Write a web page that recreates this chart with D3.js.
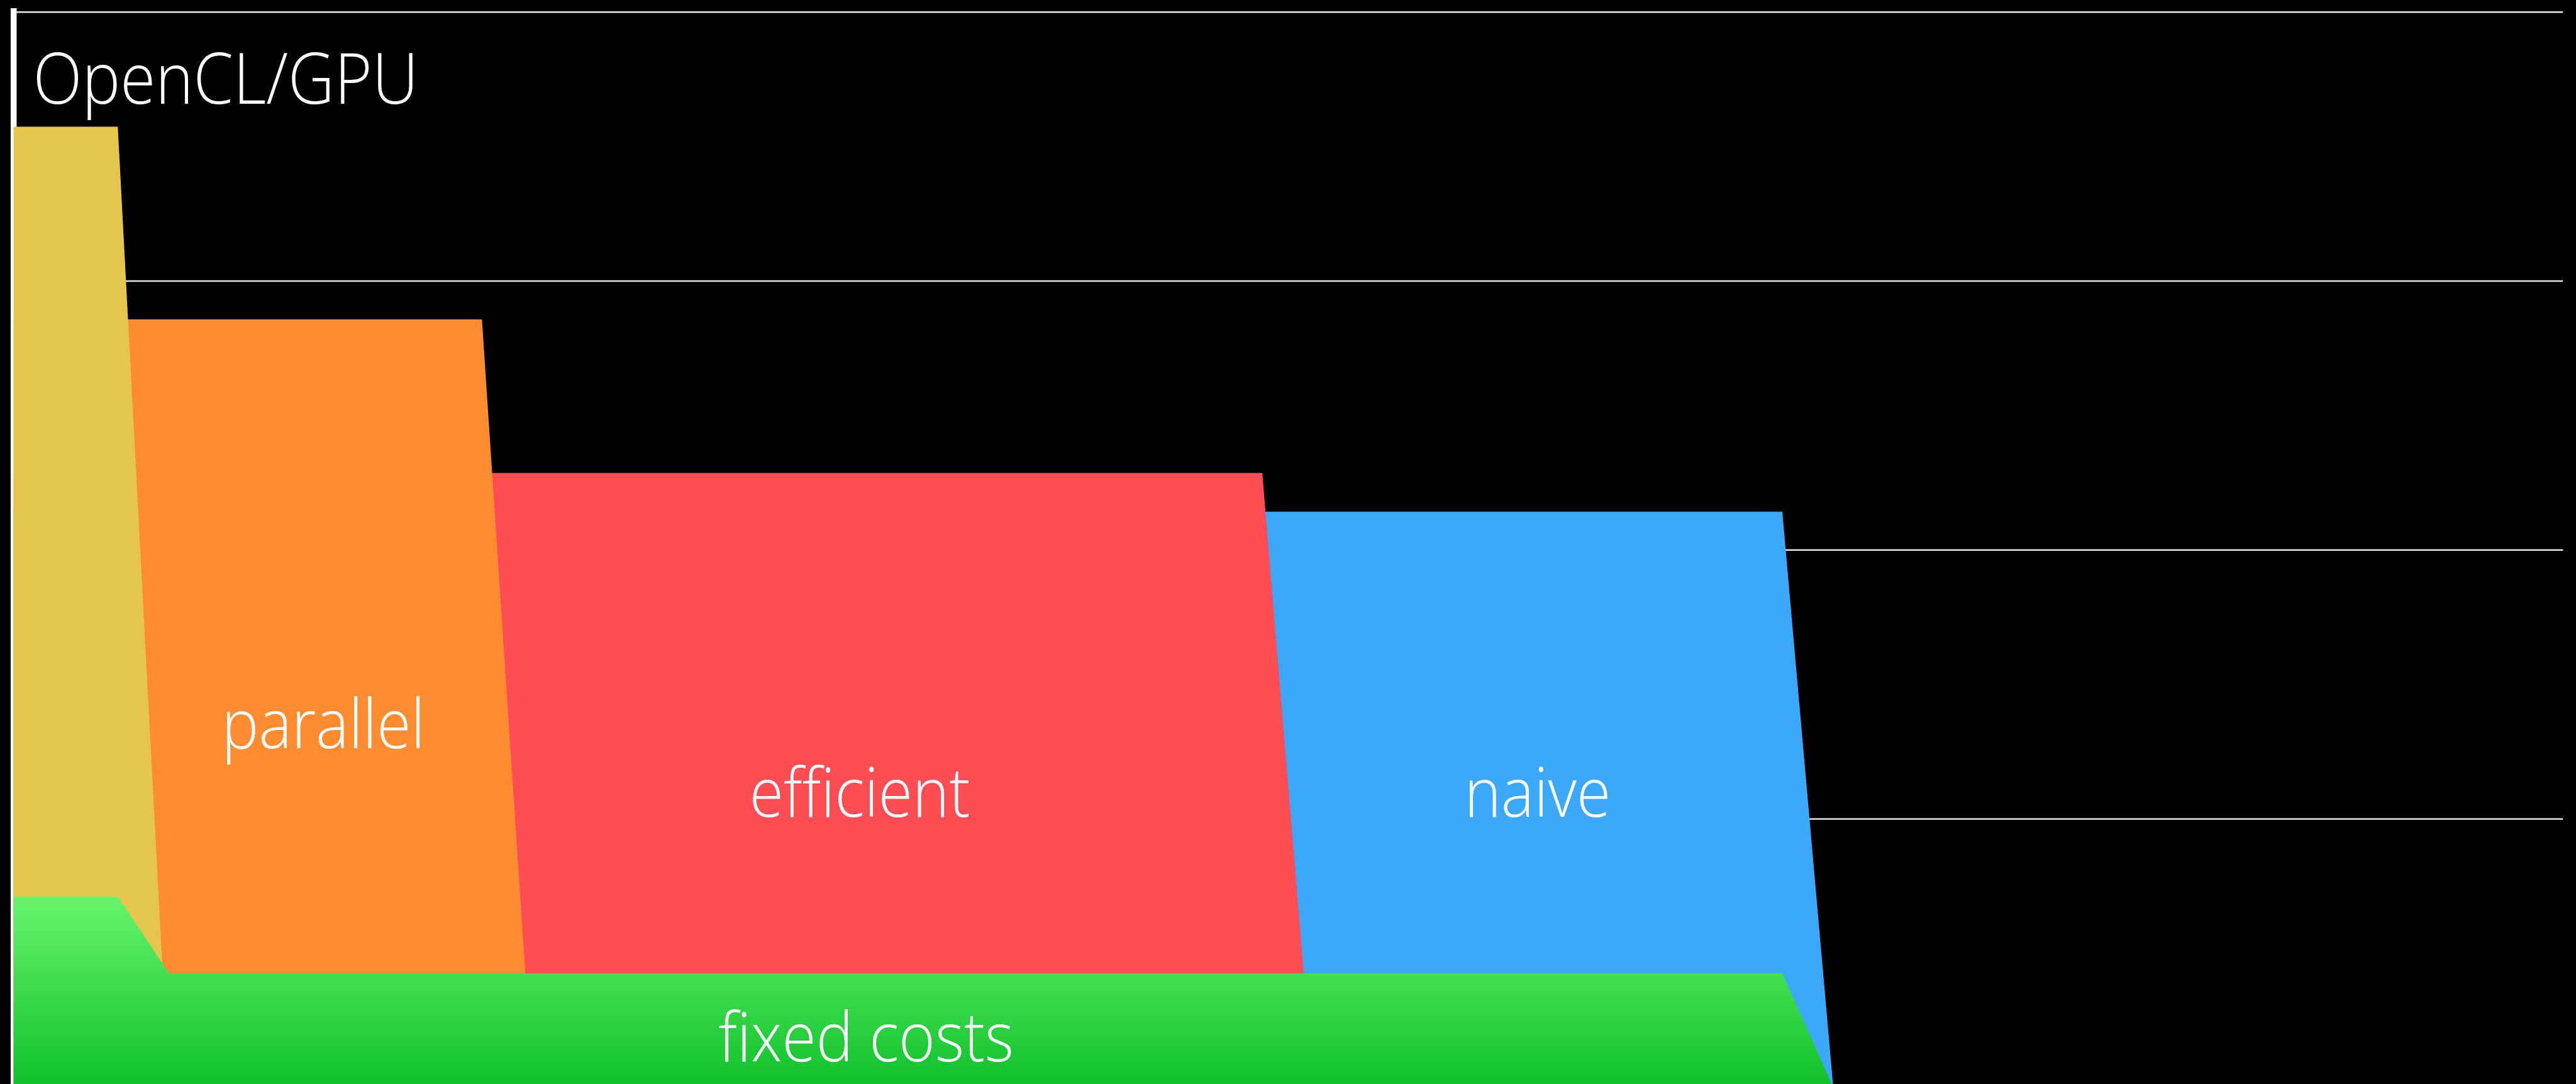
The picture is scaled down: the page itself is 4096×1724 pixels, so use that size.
<!DOCTYPE html>
<html>
<head>
<meta charset="utf-8">
<script src="https://cdn.jsdelivr.net/npm/d3@7"></script>
<style>
  html, body { margin: 0; padding: 0; background: #000; overflow: hidden; }
  svg { display: block; }
</style>
</head>
<body>
<svg id="chart" width="4096" height="1724"></svg>
<script>
// Stages of the OpenCL/GPU timeline: each holds a level until its end, then ramps to zero.
const stageLabels  = ["", "parallel", "efficient", "naive"];
const stageColors  = ["#E4C54D", "#FF8C31", "#FF4D55", "#3CA8FA"];
const stageLevels  = [3.573, 2.856, 2.285, 2.1415];
const stageEnds    = [4.085, 18.37, 48.98, 69.38];
const stageZeroAt  = [6.085, 20.37, 50.98, 71.38];

// Fixed costs band drawn over the bottom of every stage.
const fixedLabel = "fixed costs";
const fixedX     = [0, 4.085, 6.1, 69.38, 71.38];
const fixedY     = [0.710, 0.710, 0.4245, 0.4245, 0];

// Horizontal grid levels.
const gridTicks = [1, 2, 3, 4];

// Label anchors (data units).
const labelX = [null, 12.15, 33.19, 59.78];
const labelY = [null, 1.262, 1.006, 1.006];
const fixedLabelPos = [33.44, 0.0973];

const title = "OpenCL/GPU";

const K = 4096 / 4527;          // drawing scale
const CONDENSE = 0.91;          // narrower set width for the thin typeface
const svg = d3.select("#chart");
svg.append("rect").attr("width", 4096).attr("height", 1724).attr("fill", "#000");

const x = d3.scaleLinear().domain([0, 100]).range([24 * K, 4504 * K]);
const y = d3.scaleLinear().domain([0, 4]).range([1911.7 * K, 20.7 * K]);

const defs = svg.append("defs");
const grad = defs.append("linearGradient")
  .attr("id", "fixedGrad")
  .attr("gradientUnits", "userSpaceOnUse")
  .attr("x1", 0).attr("x2", 0)
  .attr("y1", y(fixedY[0])).attr("y2", 1905 * K);
grad.append("stop").attr("offset", 0).attr("stop-color", "#68F46C");
grad.append("stop").attr("offset", 1).attr("stop-color", "#10C12C");

// Grid lines
const grid = svg.append("g")
  .attr("transform", `translate(${x(0)},0)`)
  .call(d3.axisLeft(y).tickValues(gridTicks).tickSize(-(x(100) - x(0))).tickFormat(""));
grid.select(".domain").remove();
grid.selectAll(".tick line")
  .attr("stroke", "#e8e8e8")
  .attr("stroke-width", 2.7 * K);

// Vertical axis line
svg.append("line")
  .attr("x1", x(0)).attr("x2", x(0))
  .attr("y1", 14.3 * K).attr("y2", 1724)
  .attr("stroke", "#fff")
  .attr("stroke-width", 10.5 * K);

const area = d3.area()
  .x(d => x(d[0]))
  .y0(y(0))
  .y1(d => y(d[1]))
  .curve(d3.curveLinear);

// Stages, latest first so earlier stages sit in front
const order = d3.range(stageLabels.length).reverse();
svg.append("g").selectAll("path")
  .data(order)
  .join("path")
  .attr("d", i => area([[0, stageLevels[i]], [stageEnds[i], stageLevels[i]], [stageZeroAt[i], 0]]))
  .attr("fill", i => stageColors[i]);

// Fixed costs band
svg.append("path")
  .attr("d", area(fixedX.map((v, i) => [v, fixedY[i]])))
  .attr("fill", "url(#fixedGrad)");

const fontFamily = "'Open Sans', Lato, 'Noto Sans', sans-serif";

function condense(sel) {
  sel.each(function () {
    const w = this.getComputedTextLength();
    d3.select(this)
      .attr("textLength", w * CONDENSE)
      .attr("lengthAdjust", "spacingAndGlyphs");
  });
}

// Stage labels
svg.append("g").selectAll("text")
  .data(d3.range(stageLabels.length).filter(i => stageLabels[i]))
  .join("text")
  .attr("x", i => x(labelX[i]))
  .attr("y", i => y(labelY[i]))
  .attr("text-anchor", "middle")
  .attr("fill", "#fff")
  .attr("font-family", fontFamily)
  .attr("font-weight", 300)
  .attr("font-size", 120 * K)
  .text(i => stageLabels[i])
  .call(condense);

svg.append("text")
  .attr("x", x(fixedLabelPos[0]))
  .attr("y", y(fixedLabelPos[1]))
  .attr("text-anchor", "middle")
  .attr("fill", "#fff")
  .attr("font-family", fontFamily)
  .attr("font-weight", 300)
  .attr("font-size", 120 * K)
  .text(fixedLabel)
  .call(condense);

// Title
svg.append("text")
  .attr("x", 58 * K)
  .attr("y", 182.7 * K)
  .attr("fill", "#fff")
  .attr("font-family", fontFamily)
  .attr("font-weight", 300)
  .attr("font-size", 124 * K)
  .text(title)
  .call(condense);
</script>
</body>
</html>
